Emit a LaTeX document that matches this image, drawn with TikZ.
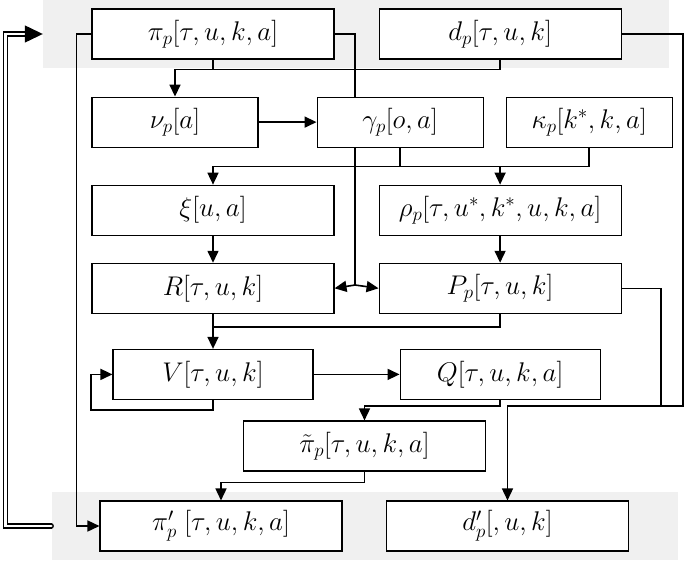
\documentclass[tikz,border=0pt]{standalone}
\usepackage{fix-cm}
\usepackage{tikz}
\usetikzlibrary{arrows.meta, positioning}

\begin{document}
\begin{tikzpicture}[
  x=1pt, y=-1pt,
  box/.style={draw, line width=1.1pt, fill=white, minimum width=242pt, minimum height=50pt, inner sep=0pt, font=\fontsize{27}{32}\selectfont},
  sbox/.style={box, minimum width=166pt},
  mbox/.style={box, minimum width=200pt},
  band/.style={fill=black!6, inner sep=0pt, minimum width=626pt, minimum height=68pt},
  wire/.style={line width=1.6pt},
  arr/.style={wire, -{Triangle[length=12pt, width=11pt]}},
  dbl/.style={double, double distance=2.6pt, line width=1.3pt, line cap=round, -{Triangle[length=18pt, width=17pt]}},
]
\useasboundingbox (0,0) rectangle (685,560);

% Input and output sets
\node[band] (inband) at (356,34) {};
\node[band] (outband) at (364.5,526) {};

% Inputs
\node[box] (pi) at (213,34) {$\pi_p[\tau,u,k,a]$};
\node[box, right=44pt of pi] (dp) {$d_p[\tau,u,k]$};

% Parameters
\node[sbox, below=37pt of pi.south west, anchor=north west] (nu) {$\nu_p[a]$};
\node[sbox, right=58pt of nu] (gamma) {$\gamma_p[o,a]$};
\node[sbox, right=22pt of gamma] (kappa) {$\kappa_p[k^*,k,a]$};

% Intermediate
\node[box, below=37pt of nu.south west, anchor=north west] (xi) {$\xi[u,a]$};
\node[box, right=44pt of xi] (rho) {$\rho_p[\tau,u^*,k^*,u,k,a]$};
\node[box, below=27pt of xi] (R) {$R[\tau,u,k]$};
\node[box, right=44pt of R] (P) {$P_p[\tau,u,k]$};
\node[mbox, below=35pt of R] (V) {$V[\tau,u,k]$};
\node[mbox, right=86pt of V] (Q) {$Q[\tau,u,k,a]$};
\node[box] (tpi) at (364.5,446) {$\tilde{\pi}_p[\tau,u,k,a]$};

% Outputs
\node[box] (pip) at (221,526) {$\pi'_p\;[\tau,u,k,a]$};
\node[box] (dpp) at (507.5,526) {$d'_p[,u,k]$};

% Junctions
\coordinate (jrp) at (355,285);
\coordinate (jd) at (683,406);
\coordinate (jp) at (661,406);
\coordinate (vloop) at (91,410);

% Arrows
\draw[arr] (dp.south) -- ++(0,10) -| (nu.north);
\draw[wire] (pi.south) -- ++(0,10);
\draw[wire] (pi.east) -| (jrp |- gamma.north);
\draw[wire] (jrp |- gamma.south) -- (jrp);
\draw[arr] (jrp) -- (R.east);
\draw[arr] (jrp) -- (P.west);
\draw[arr] (nu) -- (gamma);
\draw[arr] (kappa.south) -- ++(0,19) -| (xi.north);
\draw[wire] (gamma.south) -- ++(0,19);
\draw[arr] (rho.north) ++(0,-18) -- (rho.north);
\draw[arr] (xi) -- (R);
\draw[arr] (rho) -- (P);
\draw[arr] (R) -- (V);
\draw[wire] (P.south) -- ++(0,13) -| (R.south);
\draw[arr] (dp.east) -| (jd) -| (dpp.north);
\draw[wire] (P.east) -| (jp);
\draw[arr] (V) -- (Q);
\draw[arr] (V.south) |- (vloop) |- (V.west);
\draw[arr] (Q.south) -- ++(0,6) -| (tpi.north);
\draw[arr] (tpi.south) -- ++(0,11) -| (pip.north);
\draw[arr] (pi.west) -- ++(-15,0) |- (pip.west);
\draw[dbl] (outband.west) -- ++(-46,0) |- (inband.west);

\end{tikzpicture}
\end{document}
